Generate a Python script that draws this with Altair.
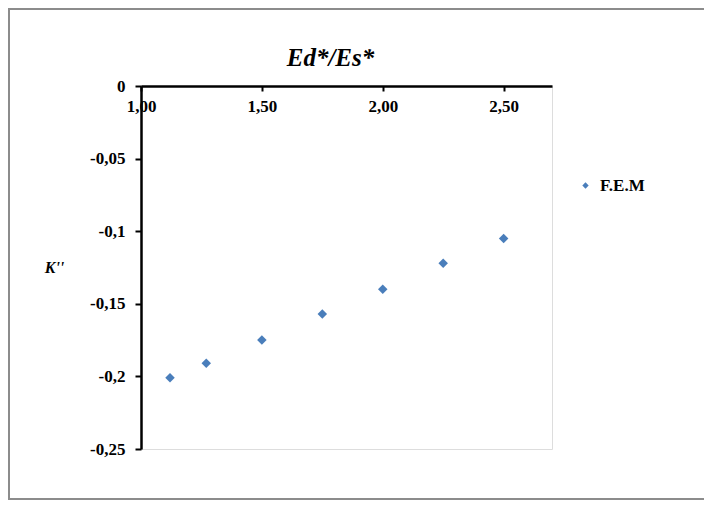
import altair as alt
import pandas as pd

# data
x_vals = [1.12, 1.27, 1.50, 1.75, 2.00, 2.25, 2.50]
y_vals = [-0.201, -0.191, -0.175, -0.157, -0.140, -0.122, -0.105]
series_name = "F.E.M"
x_ticks = [1.0, 1.5, 2.0, 2.5]
y_ticks = [0, -0.05, -0.1, -0.15, -0.2, -0.25]

df = pd.DataFrame({"x": x_vals, "y": y_vals, "series": [series_name] * len(x_vals)})
frame_df = pd.DataFrame({"a": [0]})

W, H = 411, 363
FONT = "Liberation Serif"

frame = alt.Chart(frame_df).mark_rect(
    fill=None, stroke="#8c8c8c", strokeWidth=2
).encode(
    x=alt.value(-132), x2=alt.value(620), y=alt.value(-77), y2=alt.value(413)
)

points = alt.Chart(df).mark_point(
    shape="diamond", filled=True, size=90, opacity=1
).encode(
    x=alt.X(
        "x:Q",
        scale=alt.Scale(domain=[1, 2.7], nice=False, zero=False),
        axis=alt.Axis(
            orient="bottom", offset=-H, values=x_ticks,
            labelExpr="replace(format(datum.value, '.2f'), '.', ',')",
            tickSize=5, tickWidth=2, tickColor="black",
            domainColor="black", domainWidth=2.5,
            labelPadding=7, labelFont=FONT, labelFontSize=17,
            labelFontWeight="bold", labelColor="black",
            labelFlush=False, grid=False,
            title="Ed*/Es*", titleX=189, titleY=-21,
            titleAlign="center", titleBaseline="alphabetic", titleAngle=0,
            titleFont=FONT, titleFontSize=25, titleFontStyle="italic",
            titleFontWeight="bold", titleColor="black",
        ),
    ),
    y=alt.Y(
        "y:Q",
        scale=alt.Scale(domain=[-0.25, 0], nice=False, zero=False),
        axis=alt.Axis(
            values=y_ticks,
            labelExpr="replace(toString(datum.value), '.', ',')",
            tickSize=6, tickWidth=2, tickColor="black",
            domainColor="black", domainWidth=2.5,
            labelPadding=10, labelFont=FONT, labelFontSize=17,
            labelFontWeight="bold", labelColor="black", labelFlush=False,
            grid=False,
            title="K''", titleAngle=0, titleX=-87, titleY=181,
            titleAlign="center", titleBaseline="middle",
            titleFont=FONT, titleFontSize=16, titleFontStyle="italic",
            titleFontWeight="bold", titleColor="black",
        ),
    ),
    color=alt.Color(
        "series:N",
        scale=alt.Scale(range=["#4A7EBB"]),
        legend=alt.Legend(
            orient="none", legendX=436, legendY=91, title=None,
            symbolType="diamond", symbolSize=40,
            labelFont=FONT, labelFontSize=17, labelFontWeight="bold",
            labelColor="black", labelOffset=6, padding=0,
        ),
    ),
)

chart = alt.layer(frame, points).properties(
    width=W, height=H,
    autosize=alt.AutoSizeParams(type="none"),
    padding={"left": 133, "top": 78, "right": 152, "bottom": 53},
).configure_view(stroke="#999999", strokeWidth=1).configure(background="white")

chart.save("out.html", embed_options={"renderer": "svg", "actions": False})
